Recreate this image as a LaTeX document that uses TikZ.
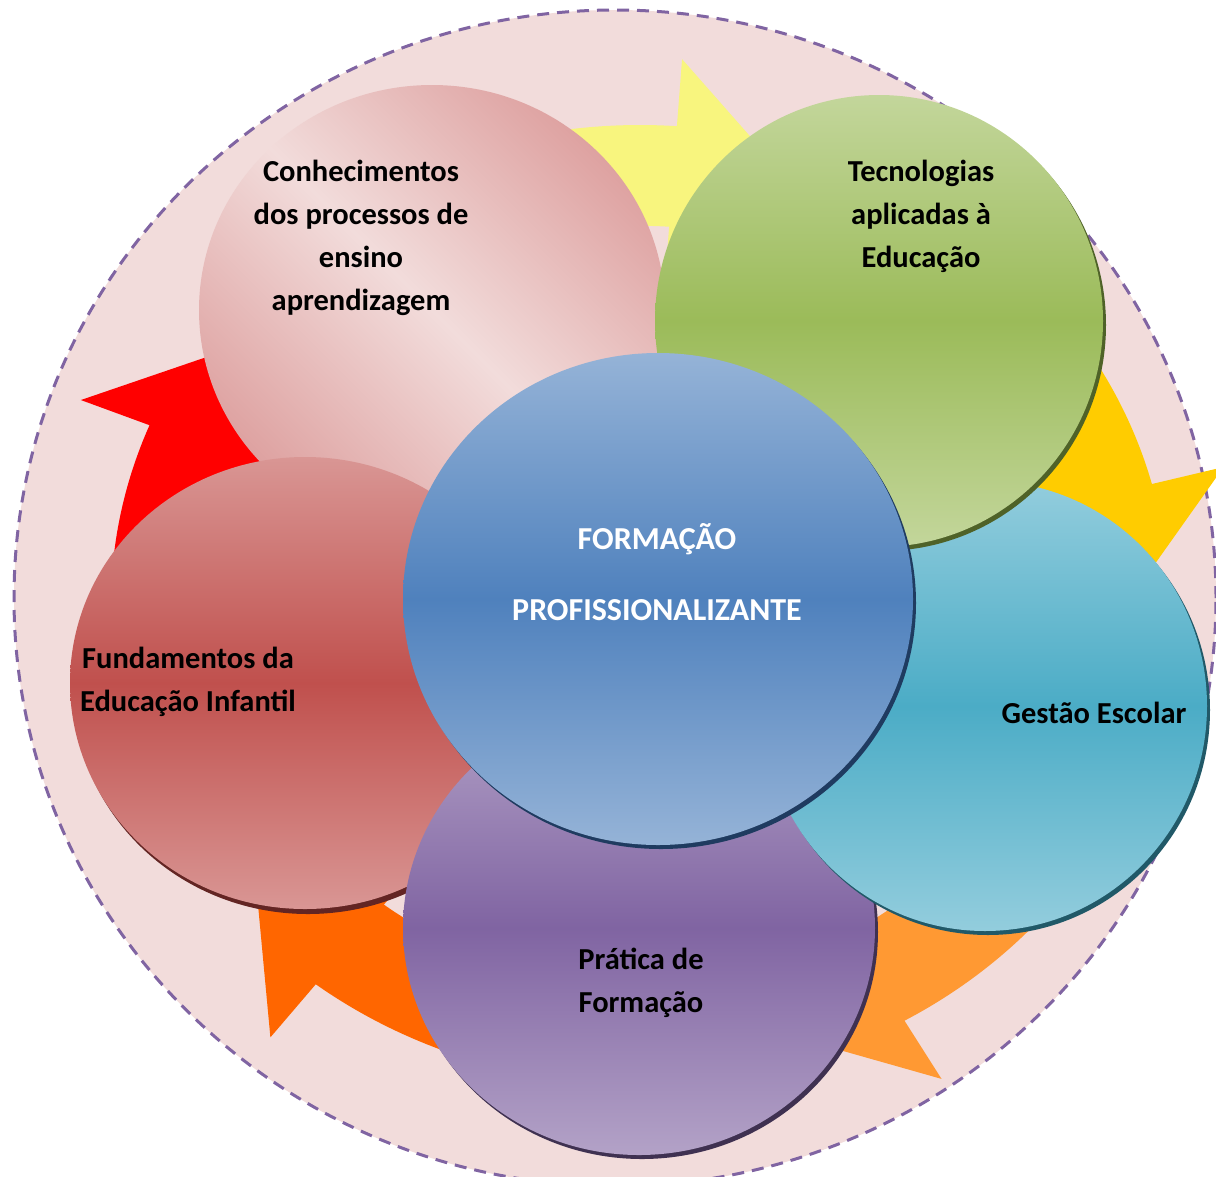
\documentclass[tikz,border=0pt]{standalone}
\usepackage{fontspec}
\setmainfont{Carlito}
\usetikzlibrary{shapes.geometric}
\definecolor{bgpink}{HTML}{F2DCDB}
\definecolor{dashpurple}{HTML}{8064A2}
\definecolor{arRed}{HTML}{FF0000}
\definecolor{arYellow}{HTML}{F8F57E}
\definecolor{arGold}{HTML}{FFCC00}
\definecolor{arLOrange}{HTML}{FF9933}
\definecolor{arDOrange}{HTML}{FF6600}
\definecolor{pkEdge}{HTML}{DEA2A1}
\definecolor{pkMid}{HTML}{F2DCDB}
\definecolor{grLight}{HTML}{C3D69B}
\definecolor{grMid}{HTML}{9BBB59}
\definecolor{grDark}{HTML}{4F6228}
\definecolor{tlLight}{HTML}{93CDDD}
\definecolor{tlMid}{HTML}{4BACC6}
\definecolor{tlDark}{HTML}{215968}
\definecolor{puLight}{HTML}{B3A2C7}
\definecolor{puMid}{HTML}{8064A2}
\definecolor{puDark}{HTML}{3F3151}
\definecolor{rdLight}{HTML}{D99694}
\definecolor{rdMid}{HTML}{C0504D}
\definecolor{rdDark}{HTML}{632523}
\definecolor{blLight}{HTML}{95B3D7}
\definecolor{blMid}{HTML}{4F81BD}
\definecolor{blDark}{HTML}{1F3B60}
\newcommand\circarrow[2]{%
  \pgfmathsetmacro\arrTail{#1+32}%
  \pgfmathsetmacro\arrTip{#1-17}%
  \fill[#2] (\arrTail:1) arc[start angle=\arrTail, end angle=#1, radius=1]
    -- (#1:1.14) -- (\arrTip:0.895) -- (#1:0.65) -- (#1:0.79)
    arc[start angle=#1, end angle=\arrTail, radius=0.79] -- cycle;}
\begin{document}
\begin{tikzpicture}[x=1pt,y=-1pt,
  blob/.style={ellipse, inner sep=0pt, outer sep=0pt},
  shadowblob/.style={ellipse, inner sep=0pt, outer sep=0pt, fill=#1},
  vgrad/.style n args={2}{top color=#1, bottom color=#1, middle color=#2},
  lbl/.style={font=\bfseries\fontsize{30.5}{43}\selectfont, align=center, text=black, inner sep=0pt},
  clbl/.style={font=\bfseries\fontsize{32}{43}\selectfont, text=white, inner sep=0pt, anchor=base}]
\useasboundingbox (0,0) rectangle (1216,1176);
\begin{scope}
\clip (0,0) rectangle (1216,1176);
% background dashed circle
\node[blob, minimum width=1202pt, minimum height=1176pt, fill=bgpink,
      draw=dashpurple, line width=3pt, dash pattern=on 12pt off 8pt] (bg) at (615,598) {};
% circular block arrows
\begin{scope}[shift={(640,605)}, x=529pt, y=480pt]
  \circarrow{158}{arRed}
  \circarrow{86}{arYellow}
  \circarrow{14.6}{arGold}
  \circarrow{-60}{arLOrange}
  \circarrow{-127.8}{arDOrange}
\end{scope}
% Conhecimentos (pink)
\node[blob, minimum width=466pt, minimum height=450pt,
      top color=pkEdge, bottom color=pkEdge, middle color=pkMid, shading angle=-45] (know) at (432,310) {};
% Fundamentos (red)
\node[shadowblob=rdDark, minimum width=470pt, minimum height=452pt] (fundS) at (308,688) {};
\node[blob, minimum width=470pt, minimum height=452pt, vgrad={rdLight}{rdMid}] (fund) at (305,683) {};
% Pratica (purple)
\node[shadowblob=puDark, minimum width=472pt, minimum height=454pt] (pratS) at (642,932) {};
\node[blob, minimum width=472pt, minimum height=454pt, vgrad={puLight}{puMid}] (prat) at (639,928) {};
% Gestao (teal)
\node[shadowblob=tlDark, minimum width=444pt, minimum height=450pt] (gestS) at (988,710) {};
\node[blob, minimum width=444pt, minimum height=450pt, vgrad={tlLight}{tlMid}] (gest) at (985,706) {};
% Tecnologias (green)
\node[shadowblob=grDark, minimum width=448pt, minimum height=452pt] (tecS) at (882,325) {};
\node[blob, minimum width=448pt, minimum height=452pt, vgrad={grLight}{grMid}] (tec) at (879,321) {};
% Centre (blue)
\node[shadowblob=blDark, minimum width=510pt, minimum height=492pt] (formS) at (661,603) {};
\node[blob, minimum width=510pt, minimum height=492pt, vgrad={blLight}{blMid}] (form) at (658,599) {};
\end{scope}
% labels
\node[lbl] (tknow) at (361,238) {Conhecimentos\\dos processos de\\ensino\\aprendizagem};
\node[lbl] (ttec) at (921,216) {Tecnologias\\aplicadas à\\Educação};
\node[lbl] (tfund) at (188,682) {Fundamentos da\\Educação Infantil};
\node[lbl] (tgest) at (1094,713) {Gestão Escolar};
\node[lbl] (tprat) at (641,983) {Prática de\\Formação};
\node[clbl] (tform1) at (657,549) {FORMAÇÃO};
\node[clbl] (tform2) at (657,620) {PROFISSIONALIZANTE};
\end{tikzpicture}
\end{document}
